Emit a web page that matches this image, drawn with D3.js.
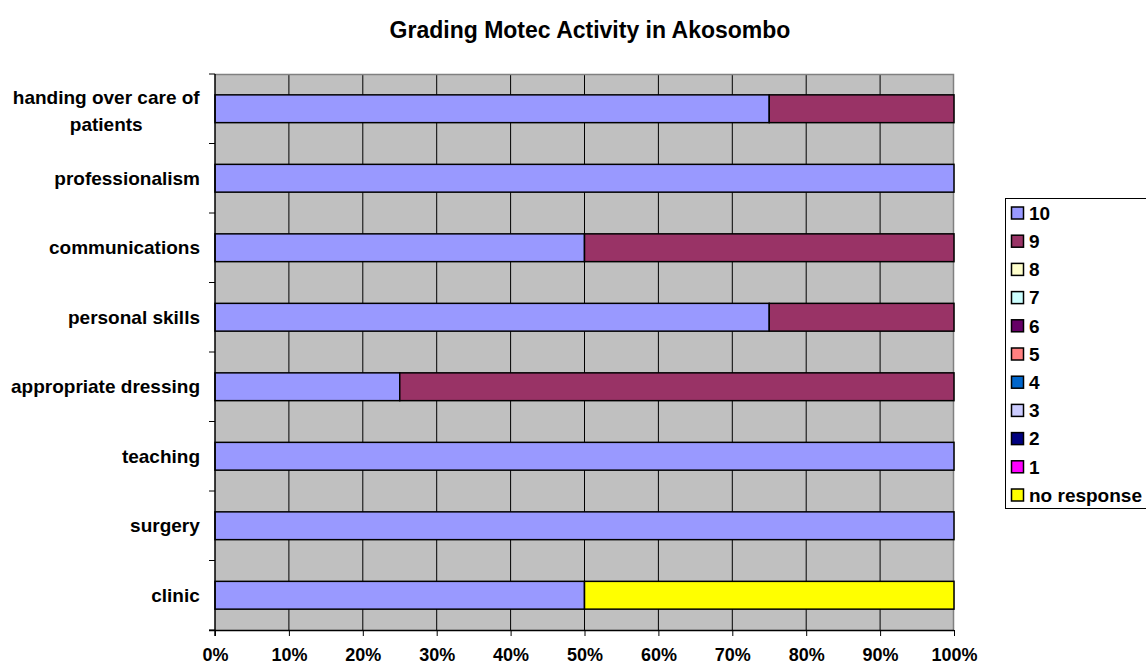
<!DOCTYPE html>
<html><head><meta charset="utf-8">
<script src="https://cdn.jsdelivr.net/npm/d3@7"></script>
<style>body{margin:0;background:#fff}svg text{font-family:"Liberation Sans",Arial,sans-serif;font-weight:bold;fill:#000}</style>
</head><body><svg id="c" width="1146" height="668"></svg>
<script>
const categories = ["handing over care of patients","professionalism","communications","personal skills","appropriate dressing","teaching","surgery","clinic"];
const seriesNames = ["10","9","8","7","6","5","4","3","2","1","no response"];
const seriesColors = ["#9999FF","#993366","#FFFFCC","#CCFFFF","#660066","#FF8080","#0066CC","#CCCCFF","#000080","#FF00FF","#FFFF00"];
// percentages per category (same order as categories)
const s10 = [75,100,50,75,25,100,100,50];
const s9  = [25,0,50,25,75,0,0,0];
const s8  = [0,0,0,0,0,0,0,0];
const s7  = [0,0,0,0,0,0,0,0];
const s6  = [0,0,0,0,0,0,0,0];
const s5  = [0,0,0,0,0,0,0,0];
const s4  = [0,0,0,0,0,0,0,0];
const s3  = [0,0,0,0,0,0,0,0];
const s2  = [0,0,0,0,0,0,0,0];
const s1  = [0,0,0,0,0,0,0,0];
const sNR = [0,0,0,0,0,0,0,50];
const xTicks = [0,10,20,30,40,50,60,70,80,90,100];

const seriesVals = [s10,s9,s8,s7,s6,s5,s4,s3,s2,s1,sNR];
const rows = categories.map((c,i)=>{const o={cat:c}; seriesNames.forEach((s,j)=>o[s]=seriesVals[j][i]); return o;});
const stack = d3.stack().keys(seriesNames)(rows);

const svg = d3.select("#c");
const L=215,R=954,T=74,B=630;
const x = d3.scaleLinear().domain([0,100]).range([L,R]);
const y = d3.scaleBand().domain(categories).range([T,B]).paddingInner(0.6).paddingOuter(0.3);
const yb = d3.scaleBand().domain(categories).range([T,B]);

svg.append("rect").attr("x",L).attr("y",T).attr("width",R-L).attr("height",B-T).attr("fill","#C0C0C0");
// gridlines
svg.append("g").selectAll("line").data(xTicks.slice(1,-1)).join("line")
  .attr("x1",d=>x(d)).attr("x2",d=>x(d)).attr("y1",T).attr("y2",B).attr("stroke","#000").attr("stroke-width",1);
// border top/right
svg.append("path").attr("d",`M${L},${T+0.5}H${R-0.5}V${B}`).attr("fill","none").attr("stroke","#808080").attr("stroke-width",1.5);

// bars
const sw = 1.5;
svg.append("g").selectAll("g").data(stack).join("g").attr("fill",(d,i)=>seriesColors[i])
  .selectAll("rect").data(d=>d.filter(e=>e[1]-e[0]>0)).join("rect")
  .attr("x",d=>x(d[0])).attr("width",d=>x(d[1])-x(d[0]))
  .attr("y",d=>y(d.data.cat)).attr("height",y.bandwidth())
  .attr("stroke","#000").attr("stroke-width",sw);

// y axis
const yAxis = svg.append("g").attr("transform",`translate(${L},0)`);
yAxis.append("line").attr("x1",0).attr("x2",0).attr("y1",T).attr("y2",B+6).attr("stroke","#000").attr("stroke-width",1.5);
yAxis.selectAll("line.t").data(categories.concat(["_end"])).join("line").attr("class","t")
  .attr("x1",-6).attr("x2",0)
  .attr("y1",(d,i)=>T+i*yb.step()).attr("y2",(d,i)=>T+i*yb.step()).attr("stroke","#000").attr("stroke-width",1);
const fs=19;
categories.forEach(c=>{
  const cy = yb(c)+yb.bandwidth()/2;
  let lines=[c];
  if(c==="handing over care of patients") lines=["handing over care of","patients"];
  const t = svg.append("text").attr("font-size",fs).attr("text-anchor","middle");
  const lh=27;
  const off = lines.length>1 ? 2 : 0;
  lines.forEach((ln,k)=>{
    t.append("tspan").attr("x",0).attr("y",cy+off+(k-(lines.length-1)/2)*lh).attr("dy","0.35em").text(ln);
  });
  const bb=t.node().getBBox();
  const cx = 200 - bb.width/2;
  t.selectAll("tspan").attr("x",cx);
});

// x axis
const xAxis = svg.append("g").attr("transform",`translate(0,${B})`)
  .call(d3.axisBottom(x).tickValues(xTicks).tickSize(6).tickPadding(12).tickFormat(d=>d+"%"));
xAxis.select(".domain").attr("stroke","#000").attr("stroke-width",1.5).attr("d",`M${L-6},0.5H${R}`);
xAxis.selectAll(".tick line").attr("stroke","#000");
xAxis.selectAll("text").attr("font-size",18).attr("font-family","Liberation Sans,Arial,sans-serif").attr("font-weight","bold").attr("fill","#000").attr("dy","0.71em");

// title
svg.append("text").attr("x",590).attr("y",38).attr("text-anchor","middle").attr("font-size",23).text("Grading Motec Activity in Akosombo");

// legend
const lgTop=198, lgStep=28.2, lg0=213;
svg.append("rect").attr("x",1005.5).attr("y",lgTop+0.5).attr("width",160).attr("height",310).attr("fill","#fff").attr("stroke","#000").attr("stroke-width",1);
const lg = svg.append("g").selectAll("g").data(seriesNames).join("g")
  .attr("transform",(d,i)=>`translate(1011,${lg0+i*lgStep})`);
lg.append("rect").attr("x",0.5).attr("y",-6).attr("width",12).attr("height",12)
  .attr("fill",(d,i)=>seriesColors[i]).attr("stroke","#000").attr("stroke-width",1.5);
lg.append("text").attr("x",18).attr("y",0).attr("dy","0.36em").attr("font-size",19).text(d=>d);
</script></body></html>
